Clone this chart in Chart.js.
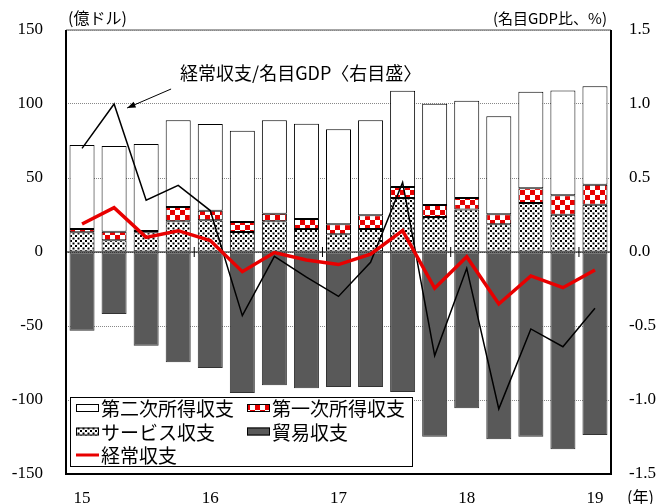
<!DOCTYPE html>
<html>
<head>
<meta charset="utf-8">
<script src="https://cdn.jsdelivr.net/npm/chart.js@4.4.1/dist/chart.umd.min.js"></script>
<style>
  html, body { margin: 0; padding: 0; background: #fff; }
  canvas { display: block; }
</style>
</head>
<body>
<canvas id="myChart" width="661" height="504"></canvas>
<script>
// quarterly, 2015 Q1 .. 2019 Q1
const quarters = ["15Q1","15Q2","15Q3","15Q4","16Q1","16Q2","16Q3","16Q4","17Q1","17Q2","17Q3","17Q4","18Q1","18Q2","18Q3","18Q4","19Q1"];
const yearTicks = ["15","","","","16","","","","17","","","","18","","","","19"];

// 億ドル
const service   = [13.3, 7.9, 13.3, 20.7, 21.4, 13.5, 20.7, 15.5, 12.0, 15.5, 36.5, 23.6, 28.8, 18.7, 33.1, 25.2, 32.0];
const primary   = [2.2, 5.8, 0.9, 9.7, 6.5, 6.8, 5.2, 6.8, 6.7, 9.3, 7.4, 8.2, 7.7, 6.8, 9.9, 13.1, 13.5];
const secondary = [56.8, 57.9, 58.8, 58.6, 58.6, 61.7, 63.1, 64.4, 64.2, 64.2, 65.1, 68.4, 65.7, 66.2, 65.3, 70.9, 66.5];
const trade     = [-53.2, -41.9, -63.3, -74.5, -78.4, -95.3, -90.1, -92.1, -91.2, -91.2, -94.6, -124.8, -105.6, -126.6, -124.8, -133.3, -123.6];
const current   = [18.9, 30.0, 9.9, 14.4, 7.7, -13.3, -0.4, -5.4, -8.5, -1.4, 14.4, -24.5, -3.2, -35.1, -16.2, -24.1, -12.2];
// 名目GDP比 %
const ratio     = [0.70, 1.00, 0.35, 0.45, 0.28, -0.43, -0.03, -0.17, -0.30, -0.07, 0.47, -0.70, -0.11, -1.06, -0.52, -0.64, -0.38];

const leftTicks = [150, 100, 50, 0, -50, -100, -150];
const rightTicks = [1.5, 1.0, 0.5, 0.0, -0.5, -1.0, -1.5];

const RED = "rgb(232,0,0)";
const JP = "'Noto Sans CJK JP', sans-serif";
const NUM = "Liberation Serif";

Chart.defaults.font.family = NUM;
Chart.defaults.font.size = 17;
Chart.defaults.color = "#000";

function dotPattern() {
    const c = document.createElement("canvas");
    c.width = 5; c.height = 5;
    const g = c.getContext("2d");
    g.fillStyle = "#fff";
    g.fillRect(0, 0, 5, 5);
    g.fillStyle = "#000";
    g.fillRect(0, 0, 2, 2);
    g.fillRect(2.5, 2.5, 2, 2);
    return g.createPattern(c, "repeat");
}

function checkPattern() {
    const c = document.createElement("canvas");
    c.width = 10; c.height = 10;
    const g = c.getContext("2d");
    g.fillStyle = "#fff";
    g.fillRect(0, 0, 10, 10);
    g.fillStyle = RED;
    g.fillRect(0, 0, 5, 5);
    g.fillRect(5, 5, 5, 5);
    return g.createPattern(c, "repeat");
}

const dots = dotPattern();
const checks = checkPattern();

const legendItems = [
    { text: "第二次所得収支", fill: "#fff" },
    { text: "第一次所得収支", fill: checks },
    { text: "サービス収支", fill: dots },
    { text: "貿易収支", fill: "#595959" },
    { text: "経常収支", line: RED }
];

const decor = {
    id: "decor",
    afterDatasetDraw(chart, args) {
        // after the last bar dataset, before the lines
        if (args.index !== 0) return;
        const ctx = chart.ctx, area = chart.chartArea;
        const y = chart.scales.y, x = chart.scales.x;
        const y0 = y.getPixelForValue(0);
        ctx.save();
        ctx.strokeStyle = "#000";
        ctx.lineWidth = 1;
        ctx.beginPath();
        ctx.moveTo(area.left, y0);
        ctx.lineTo(area.right, y0);
        // year boundaries on the zero line
        for (let i = 4; i < quarters.length; i += 4) {
            const xb = (x.getPixelForValue(i - 1) + x.getPixelForValue(i)) / 2;
            ctx.moveTo(xb, y0 - 5);
            ctx.lineTo(xb, y0 + 5);
        }
        ctx.stroke();
        ctx.restore();
    },
    afterDraw(chart) {
        const ctx = chart.ctx, area = chart.chartArea;
        const x = chart.scales.x, y1 = chart.scales.y1;
        ctx.save();

        // frame
        ctx.strokeStyle = "#888";
        ctx.lineWidth = 1.5;
        ctx.beginPath();
        ctx.moveTo(area.left, area.top);
        ctx.lineTo(area.right, area.top);
        ctx.stroke();
        ctx.strokeStyle = "#000";
        ctx.lineWidth = 2;
        ctx.beginPath();
        ctx.moveTo(area.left, area.top);
        ctx.lineTo(area.left, area.bottom);
        ctx.lineTo(area.right, area.bottom);
        ctx.lineTo(area.right, area.top);
        ctx.stroke();

        // unit titles
        ctx.fillStyle = "#000";
        ctx.textBaseline = "middle";
        ctx.font = "16px " + JP;
        ctx.textAlign = "left";
        ctx.fillText("(億ドル)", area.left + 2, 18);
        ctx.font = "15px " + JP;
        ctx.textAlign = "right";
        ctx.fillText("(名目GDP比、%)", area.right - 4, 18);
        ctx.font = "16px " + JP;
        ctx.textAlign = "left";
        ctx.fillText("(年)", area.right + 16, 497);

        // annotation for the GDP ratio line
        const px = x.getPixelForValue(1), py = y1.getPixelForValue(ratio[1]);
        const tipX = px + 13, tipY = py + 4;
        const tailX = px + 57, tailY = py - 15;
        ctx.strokeStyle = "#000";
        ctx.lineWidth = 1;
        ctx.beginPath();
        ctx.moveTo(tailX, tailY);
        ctx.lineTo(tipX, tipY);
        ctx.stroke();
        const ang = Math.atan2(tipY - tailY, tipX - tailX);
        ctx.beginPath();
        ctx.moveTo(tipX, tipY);
        ctx.lineTo(tipX - 9 * Math.cos(ang - 0.35), tipY - 9 * Math.sin(ang - 0.35));
        ctx.lineTo(tipX - 9 * Math.cos(ang + 0.35), tipY - 9 * Math.sin(ang + 0.35));
        ctx.closePath();
        ctx.fillStyle = "#000";
        ctx.fill();
        ctx.font = "18px " + JP;
        ctx.textAlign = "left";
        ctx.fillText("経常収支/名目GDP〈右目盛〉", px + 66, py - 31);

        // legend box
        const bx = area.left + 4, by = area.bottom - 77, bw = 342, bh = 69;
        ctx.fillStyle = "#fff";
        ctx.fillRect(bx, by, bw, bh);
        ctx.strokeStyle = "#000";
        ctx.lineWidth = 1;
        ctx.strokeRect(bx + 0.5, by + 0.5, bw, bh);
        ctx.font = "19px " + JP;
        legendItems.forEach((it, i) => {
            const col = i % 2, row = Math.floor(i / 2);
            const sx = bx + 6 + col * 171;
            const cy = by + 11 + row * 23.5;
            if (it.line) {
                ctx.strokeStyle = it.line;
                ctx.lineWidth = 3;
                ctx.beginPath();
                ctx.moveTo(sx, cy);
                ctx.lineTo(sx + 23, cy);
                ctx.stroke();
            } else {
                ctx.fillStyle = it.fill;
                ctx.fillRect(sx, cy - 4, 23, 8);
                ctx.strokeStyle = "#000";
                ctx.lineWidth = 1;
                ctx.strokeRect(sx + 0.5, cy - 3.5, 22, 7);
            }
            ctx.fillStyle = "#000";
            ctx.textAlign = "left";
            ctx.fillText(it.text, sx + 25, cy + 1);
        });
        ctx.restore();
    }
};

const barCommon = {
    type: "bar",
    stack: "bop",
    yAxisID: "y",
    order: 2,
    borderWidth: 1,
    borderSkipped: false,
    barPercentage: 0.78,
    categoryPercentage: 1.0
};

function build() {
    const ctx = document.getElementById("myChart").getContext("2d");
    return new Chart(ctx, {
        data: {
            labels: quarters,
            datasets: [
                { ...barCommon, label: "サービス収支", data: service, backgroundColor: dots, borderColor: "#000" },
                { ...barCommon, label: "第一次所得収支", data: primary, backgroundColor: checks, borderColor: "#000" },
                { ...barCommon, label: "第二次所得収支", data: secondary, backgroundColor: "#fff", borderColor: "#000" },
                { ...barCommon, label: "貿易収支", data: trade, backgroundColor: "#595959", borderColor: "#333" },
                {
                    type: "line", label: "経常収支", data: current, yAxisID: "y", stack: "ca", order: 1,
                    borderColor: RED, borderWidth: 3.5, pointRadius: 0, tension: 0, fill: false
                },
                {
                    type: "line", label: "経常収支/名目GDP", data: ratio, yAxisID: "y1", order: 1,
                    borderColor: "#000", borderWidth: 1.5, pointRadius: 0, tension: 0, fill: false
                }
            ]
        },
        options: {
            responsive: false,
            animation: false,
            layout: { padding: { top: 30, left: 0, right: 0, bottom: 0 } },
            plugins: {
                legend: { display: false },
                tooltip: { enabled: false }
            },
            scales: {
                x: {
                    stacked: true,
                    offset: true,
                    grid: { display: false, drawTicks: false },
                    border: { display: false },
                    ticks: {
                        autoSkip: false,
                        maxRotation: 0,
                        padding: 14,
                        color: "#000",
                        font: { family: NUM, size: 17 },
                        callback: (v, i) => yearTicks[i]
                    },
                    afterFit: (s) => { s.height = 30; }
                },
                y: {
                    stacked: true,
                    position: "left",
                    min: -150,
                    max: 150,
                    afterBuildTicks: (s) => { s.ticks = leftTicks.map(v => ({ value: v })); },
                    // tick marks kept invisible: they only push the labels away from the frame
                    grid: { color: "#888", lineWidth: 1, drawTicks: true, tickLength: 23, tickColor: "rgba(0,0,0,0)" },
                    border: { display: false, dash: [1, 1] },
                    ticks: {
                        padding: 0,
                        color: "#000",
                        font: { family: NUM, size: 17 },
                        callback: (v) => String(v)
                    },
                    afterFit: (s) => { s.width = 66; }
                },
                y1: {
                    position: "right",
                    min: -1.5,
                    max: 1.5,
                    afterBuildTicks: (s) => { s.ticks = rightTicks.map(v => ({ value: v })); },
                    grid: { display: false, drawOnChartArea: false, drawTicks: true, tickLength: 18, tickColor: "rgba(0,0,0,0)" },
                    border: { display: false },
                    ticks: {
                        padding: 0,
                        color: "#000",
                        font: { family: NUM, size: 17 },
                        callback: (v) => Number(v).toFixed(1)
                    },
                    afterFit: (s) => { s.width = 50; }
                }
            }
        },
        plugins: [decor]
    });
}

Promise.all([
    document.fonts.load("17px 'Liberation Serif'"),
    document.fonts.load("17px 'Noto Sans CJK JP'")
]).then(build, build);
</script>
</body>
</html>
